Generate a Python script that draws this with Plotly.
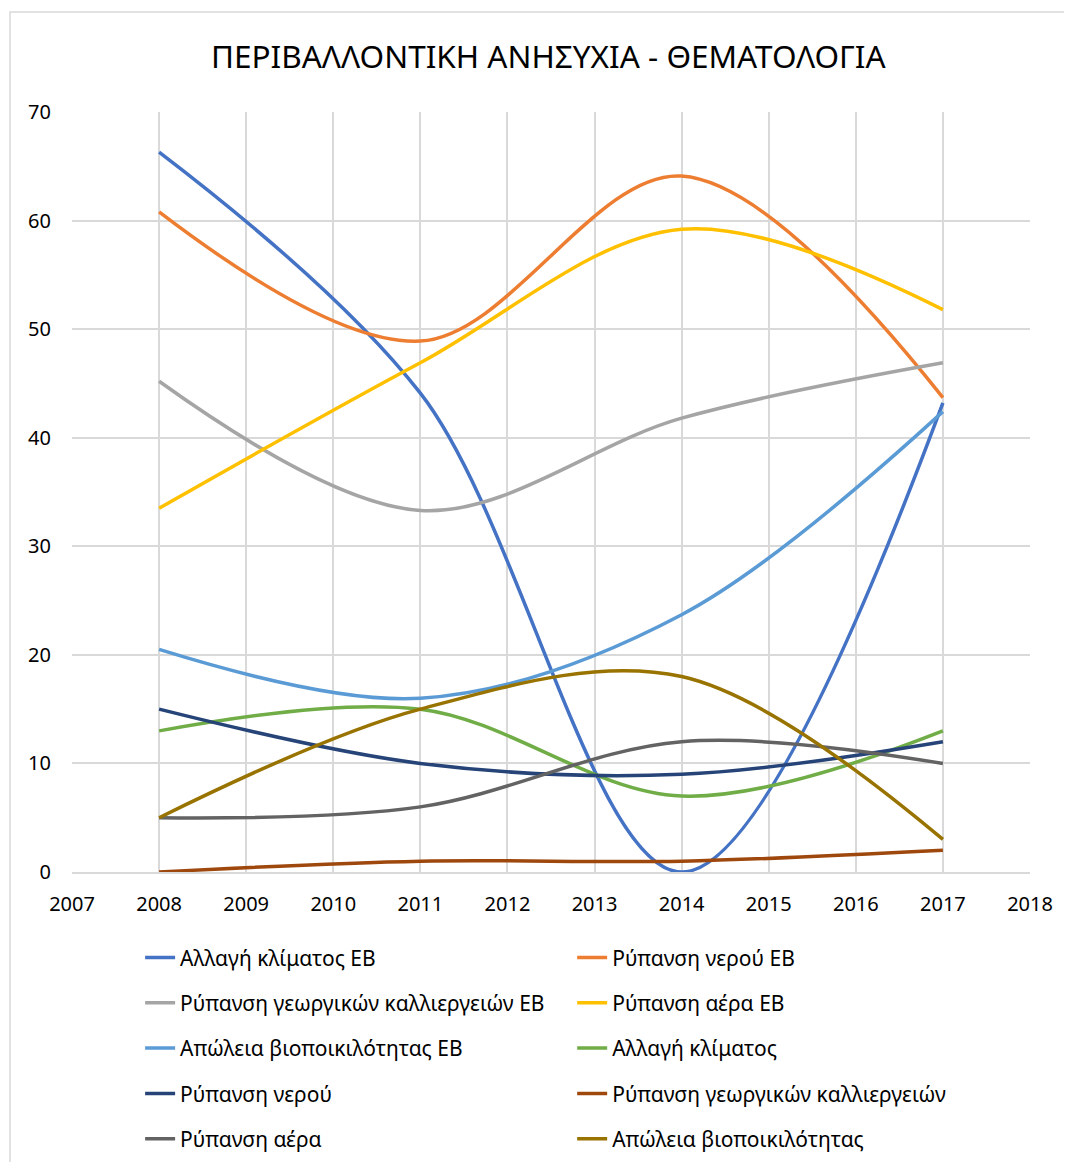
import plotly.graph_objects as go

years = [2008, 2011, 2014, 2017]

series_names = [
    "Αλλαγή κλίματος ΕΒ",
    "Ρύπανση νερού ΕΒ",
    "Ρύπανση γεωργικών καλλιεργειών ΕΒ",
    "Ρύπανση αέρα ΕΒ",
    "Απώλεια βιοποικιλότητας ΕΒ",
    "Αλλαγή κλίματος",
    "Ρύπανση νερού",
    "Ρύπανση γεωργικών καλλιεργειών",
    "Ρύπανση αέρα",
    "Απώλεια βιοποικιλότητας",
]

climate_eb = [66.3, 44.1, 0, 43.2]
water_eb = [60.8, 48.9, 64.1, 43.7]
crops_eb = [45.2, 33.3, 41.8, 46.9]
air_eb = [33.5, 46.9, 59.2, 51.8]
biodiv_eb = [20.5, 16.0, 23.7, 42.4]
climate = [13, 15, 7, 13]
water = [15, 10, 9, 12]
crops = [0, 1, 1, 2]
air = [5, 6, 12, 10]
biodiv = [5, 15, 18, 3]

all_values = [climate_eb, water_eb, crops_eb, air_eb, biodiv_eb,
              climate, water, crops, air, biodiv]

colors = ["#4472C4", "#ED7D31", "#A5A5A5", "#FFC000", "#5B9BD5",
          "#70AD47", "#264478", "#9E480E", "#636363", "#997300"]

x_ticks = list(range(2007, 2019))
y_ticks = list(range(0, 71, 10))

FONT = "Noto Sans"

fig = go.Figure()
for i, (name, vals) in enumerate(zip(series_names, all_values)):
    fig.add_trace(go.Scatter(
        x=years, y=vals, name=name, mode="lines",
        line=dict(color=colors[i], width=3.5, shape="spline", smoothing=1),
        legend="legend" if i % 2 == 0 else "legend2",
        legendgroup=f"g{i}",
        hoverinfo="skip",
    ))

legend_common = dict(
    orientation="v", yanchor="top", y=-0.086,
    font=dict(family=FONT, size=21, color="#000000"),
    bgcolor="rgba(0,0,0,0)", tracegroupgap=15,
)

# page body adds an 8px offset, so margins are trimmed by 8 on left/top
fig.update_layout(
    width=1072, height=1162,
    margin=dict(l=64, r=50, t=104, b=298, autoexpand=False),
    paper_bgcolor="white", plot_bgcolor="white",
    title=dict(text="ΠΕΡΙΒΑΛΛΟΝΤΙΚΗ ΑΝΗΣΥΧΙΑ - ΘΕΜΑΤΟΛΟΓΙΑ",
               x=0.504, xanchor="center", y=0.958, yanchor="middle",
               font=dict(family=FONT, size=31.5, color="#000000")),
    font=dict(family=FONT, color="#000000"),
    legend=dict(x=0.0711, xanchor="left", **legend_common),
    legend2=dict(x=0.5221, xanchor="left", **legend_common),
    xaxis=dict(range=[2007, 2018], tickvals=x_ticks, showgrid=True,
               gridcolor="#d9d9d9", gridwidth=1.5, zeroline=False,
               showline=True, linecolor="#d9d9d9", linewidth=1.5,
               ticks="", tickfont=dict(family=FONT, size=20),
               ticklabelstandoff=13, automargin=False),
    yaxis=dict(range=[0, 70], tickvals=y_ticks, showgrid=True,
               gridcolor="#d9d9d9", gridwidth=1.5, zeroline=False,
               showline=False, ticks="", tickfont=dict(family=FONT, size=20),
               ticklabelstandoff=20, automargin=False),
    shapes=[dict(type="rect", xref="paper", yref="paper",
                 x0=-0.0647, x1=1.08, y0=-0.40, y1=1.1316,
                 line=dict(color="#d9d9d9", width=1.5), layer="below")],
)

fig.write_html("out.html")
